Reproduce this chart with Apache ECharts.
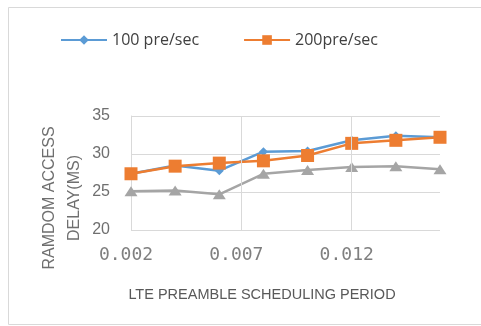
<!DOCTYPE html>
<html>
<head>
<meta charset="utf-8">
<script src="https://cdn.jsdelivr.net/npm/echarts@6/dist/echarts.min.js"></script>
<style>
  html, body { margin: 0; padding: 0; background: #fff; }
  #chart { width: 481px; height: 326px; }
</style>
</head>
<body>
<div id="chart"></div>
<script>
// Scheduling periods (x) and random access delay (ms) per preamble rate
const periods = [0.002, 0.004, 0.006, 0.008, 0.010, 0.012, 0.014, 0.016];
const delay100 = [27.4, 28.5, 27.8, 30.3, 30.4, 31.8, 32.4, 32.2];
const delay200 = [27.4, 28.4, 28.8, 29.1, 29.8, 31.4, 31.8, 32.2];
const delay300 = [25.1, 25.2, 24.7, 27.4, 27.9, 28.3, 28.4, 28.0];
const seriesNames = ['100 pre/sec', '200pre/sec', '300 pre/sec'];
const xTicks = [0.002, 0.007, 0.012];

const pairs = ys => periods.map((p, i) => [p, ys[i]]);
const gridColor = '#d9d9d9';
const textColor = '#6f6f6f';

const chart = echarts.init(document.getElementById('chart'), null, { renderer: 'canvas' });
chart.setOption({
  animation: false,
  backgroundColor: '#fff',
  graphic: [
    { type: 'rect', shape: { x: 8.5, y: 7.5, width: 480, height: 317 },
      style: { fill: 'none', stroke: gridColor, lineWidth: 1 }, z: -10 },
    { type: 'text', x: 62, y: 198, rotation: Math.PI / 2,
      style: { text: 'RAMDOM ACCESS\nDELAY(MS)', fill: textColor, font: '16px "Liberation Sans"',
               align: 'center', verticalAlign: 'middle', lineHeight: 25 } },
    { type: 'text', x: 262, y: 295,
      style: { text: 'LTE PREAMBLE SCHEDULING PERIOD', fill: '#595959', font: '14.5px "Liberation Sans"',
               align: 'center', verticalAlign: 'middle' } }
  ],
  legend: {
    data: seriesNames.slice(0, 2),
    left: 55, top: 27,
    itemWidth: 46, itemHeight: 12, itemGap: 44,
    textStyle: { color: '#404040', fontSize: 16, fontFamily: 'Open Sans' }
  },
  grid: { left: 131, right: 41, top: 116, bottom: 96, containLabel: false },
  xAxis: {
    type: 'value', min: 0.002, max: 0.016, interval: 0.005,
    axisLine: { show: false }, axisTick: { show: false }, splitLine: { show: false },
    axisLabel: {
      color: '#7f7f7f', fontSize: 18, fontFamily: 'DejaVu Sans Mono', margin: 16,
      padding: [0, 10, 0, 0],
      showMaxLabel: false,
      formatter: v => xTicks.some(t => Math.abs(t - v) < 1e-9) ? v.toFixed(3) : ''
    }
  },
  yAxis: {
    type: 'value', min: 20, max: 35, interval: 5,
    axisLine: { show: true, lineStyle: { color: gridColor } }, axisTick: { show: false },
    splitLine: { lineStyle: { color: gridColor } },
    axisLabel: { color: textColor, fontSize: 16, fontFamily: 'Liberation Sans', margin: 21 }
  },
  series: [
    {
      // invisible carrier for the vertical grid lines at the labelled periods
      type: 'line', data: pairs(delay300), silent: true, z: 1,
      symbol: 'none', lineStyle: { opacity: 0 },
      markLine: {
        silent: true, symbol: 'none', label: { show: false },
        lineStyle: { color: gridColor, type: 'solid', width: 1 },
        data: xTicks.slice(1).map(t => [{ coord: [t, 20] }, { coord: [t, 35] }])
      }
    },
    {
      name: seriesNames[0], type: 'line', data: pairs(delay100), z: 3,
      symbol: 'diamond', symbolSize: 9,
      itemStyle: { color: '#5b9bd5' }, lineStyle: { width: 2.5, color: '#5b9bd5' }
    },
    {
      name: seriesNames[1], type: 'line', data: pairs(delay200), z: 4,
      symbol: 'rect', symbolSize: 13,
      itemStyle: { color: '#ed7d31' }, lineStyle: { width: 2.5, color: '#ed7d31' }
    },
    {
      name: seriesNames[2], type: 'line', data: pairs(delay300), z: 2,
      symbol: 'triangle', symbolSize: [13, 10],
      itemStyle: { color: '#a5a5a5' }, lineStyle: { width: 2.5, color: '#a5a5a5' }
    }
  ]
});
</script>
</body>
</html>
